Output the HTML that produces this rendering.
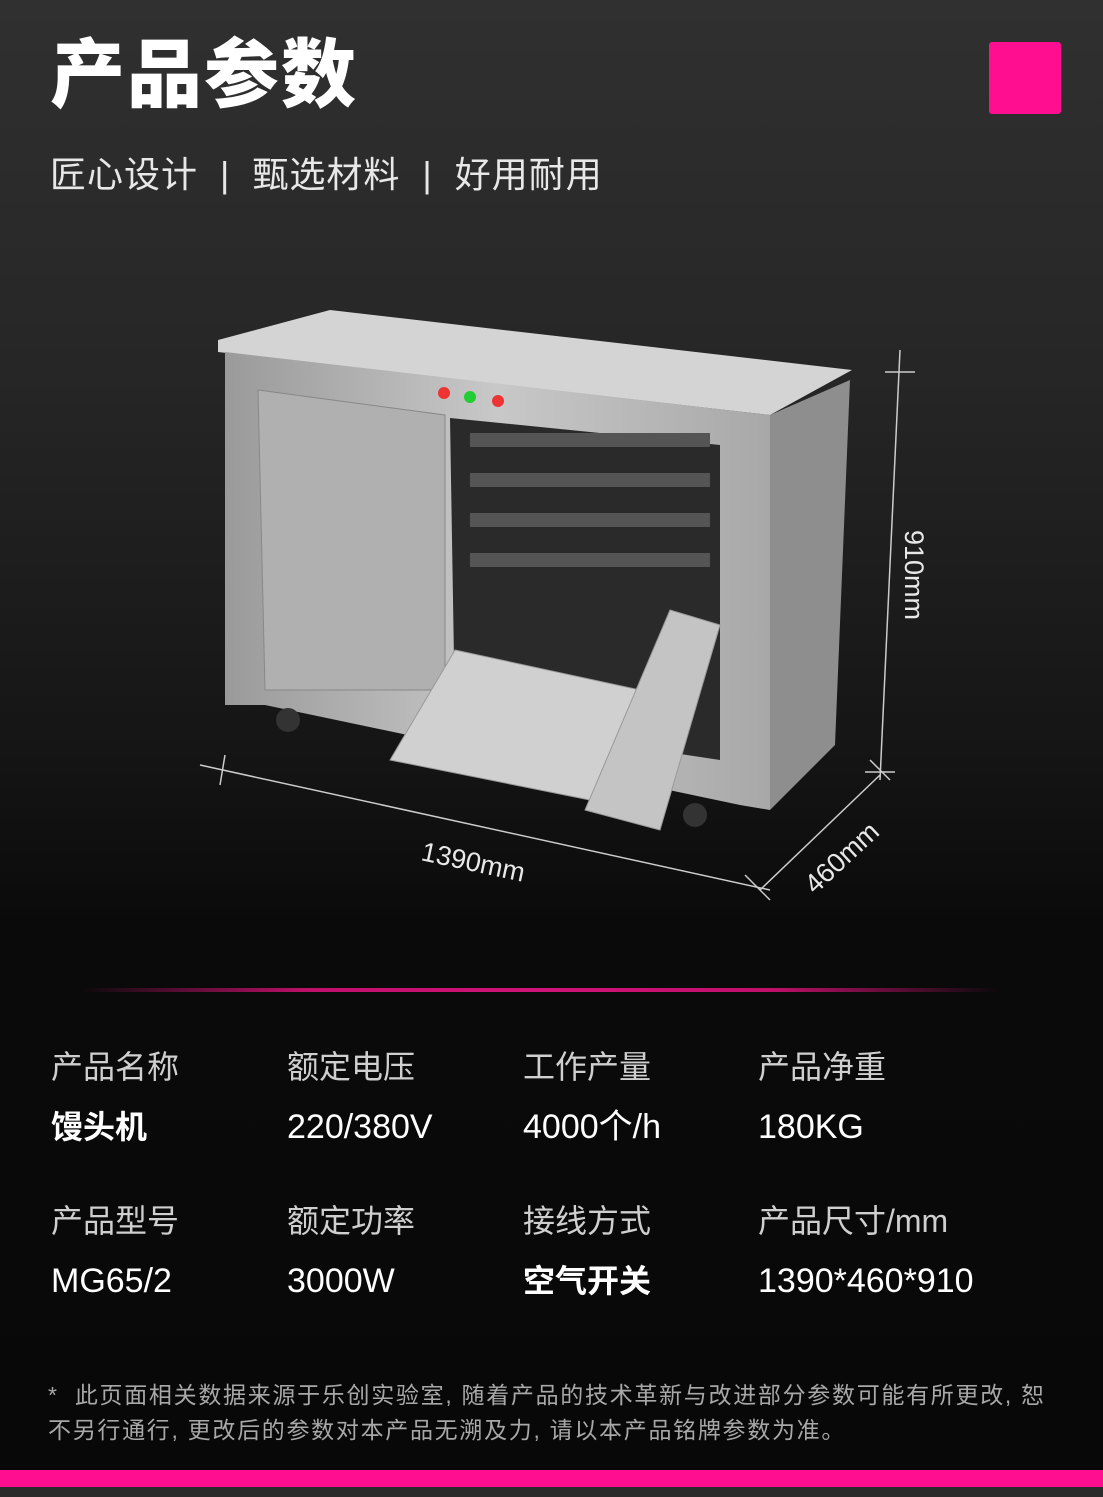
<!DOCTYPE html>
<html><head><meta charset="utf-8"><style>
body{margin:0;width:1103px;height:1497px;overflow:hidden;background:linear-gradient(180deg,#303030 0%,#262626 25%,#151515 50%,#0a0a0a 62%,#080808 100%);font-family:"Liberation Sans","Noto Sans CJK SC",sans-serif;color:#fff;position:relative}
.a{position:absolute;white-space:nowrap;line-height:1}
.lab{font-size:32px;color:#cfcfcf}
.val{font-size:34px;color:#fff}
.b{font-weight:700;font-size:32px}
</style></head><body>
<div class="a" style="left:50px;top:38px;font-size:75px;font-weight:900;letter-spacing:2px">产品参数</div>
<div class="a" style="left:989px;top:42px;width:72px;height:72px;background:#ff0f8f;border-radius:3px"></div>
<div class="a" style="left:50px;top:157px;font-size:36px;color:#e8e8e8;letter-spacing:1px">匠心设计 &nbsp;|&nbsp; 甄选材料 &nbsp;|&nbsp; 好用耐用</div>
<svg class="a" style="left:0;top:0" width="1103" height="960">
<defs><linearGradient id="m" x1="0" x2="1"><stop offset="0" stop-color="#9a9a9a"/><stop offset=".5" stop-color="#c8c8c8"/><stop offset="1" stop-color="#a8a8a8"/></linearGradient></defs>
<polygon points="218,340 330,310 852,370 770,415 218,352" fill="#d4d4d4"/>
<polygon points="225,352 770,415 770,810 740,805 265,705 225,705" fill="url(#m)"/>
<polygon points="770,415 850,380 835,745 770,810" fill="#8e8e8e"/>
<polygon points="258,390 445,415 445,690 265,690" fill="#b0b0b0" stroke="#888"/>
<polygon points="450,418 720,445 720,760 455,720" fill="#2a2a2a"/>
<g stroke="#555" stroke-width="14" fill="none">
<path d="M470,440 h240 M470,480 h240 M470,520 h240 M470,560 h240"/></g>
<polygon points="455,650 640,690 590,800 390,760" fill="#d0d0d0" stroke="#999"/>
<polygon points="670,610 720,625 660,830 585,810" fill="#c4c4c4" stroke="#999"/>
<circle cx="444" cy="393" r="6" fill="#e33"/><circle cx="470" cy="397" r="6" fill="#2c3"/><circle cx="498" cy="401" r="6" fill="#e33"/>
<circle cx="288" cy="720" r="12" fill="#333"/><circle cx="695" cy="815" r="12" fill="#333"/>
<g stroke="#ccc" stroke-width="1.5" fill="none">
<line x1="200" y1="765" x2="770" y2="890"/><line x1="225" y1="755" x2="220" y2="785"/><line x1="745" y1="875" x2="770" y2="900"/>
<line x1="900" y1="350" x2="880" y2="780"/><line x1="885" y1="372" x2="915" y2="372"/><line x1="865" y1="772" x2="895" y2="772"/>
<line x1="880" y1="775" x2="760" y2="890"/><line x1="870" y1="760" x2="890" y2="780"/>
</g>
<text x="420" y="860" fill="#e8e8e8" font-size="27" transform="rotate(12 420 860)">1390mm</text>
<text x="905" y="530" fill="#e8e8e8" font-size="27" transform="rotate(90 905 530)">910mm</text>
<text x="815" y="895" fill="#e8e8e8" font-size="27" transform="rotate(-43 815 895)">460mm</text>
</svg>
<div class="a" style="left:80px;top:988px;width:920px;height:4px;background:linear-gradient(90deg,transparent,#c0106a 25%,#d0137a 50%,#c0106a 75%,transparent)"></div>
<div class="a lab" style="left:51px;top:1051px">产品名称</div>
<div class="a lab" style="left:287px;top:1051px">额定电压</div>
<div class="a lab" style="left:523px;top:1051px">工作产量</div>
<div class="a lab" style="left:758px;top:1051px">产品净重</div>
<div class="a val b" style="left:51px;top:1111px">馒头机</div>
<div class="a val" style="left:287px;top:1110px">220/380V</div>
<div class="a val" style="left:523px;top:1110px">4000个/h</div>
<div class="a val" style="left:758px;top:1110px">180KG</div>
<div class="a lab" style="left:51px;top:1205px">产品型号</div>
<div class="a lab" style="left:287px;top:1205px">额定功率</div>
<div class="a lab" style="left:523px;top:1205px">接线方式</div>
<div class="a lab" style="left:758px;top:1205px">产品尺寸/mm</div>
<div class="a val" style="left:51px;top:1264px">MG65/2</div>
<div class="a val" style="left:287px;top:1264px">3000W</div>
<div class="a val b" style="left:523px;top:1265px">空气开关</div>
<div class="a val" style="left:758px;top:1264px">1390*460*910</div>
<div class="a" style="left:48px;top:1378px;font-size:23px;color:#a8a8a8;line-height:35px;letter-spacing:1.7px">* &nbsp;此页面相关数据来源于乐创实验室, 随着产品的技术革新与改进部分参数可能有所更改, 恕<br>不另行通行, 更改后的参数对本产品无溯及力, 请以本产品铭牌参数为准。</div>
<div class="a" style="left:0;top:1470px;width:1103px;height:17px;background:#ff0f8f"></div>
<div class="a" style="left:0;top:1487px;width:1103px;height:10px;background:#2a2a2a"></div>
</body></html>
